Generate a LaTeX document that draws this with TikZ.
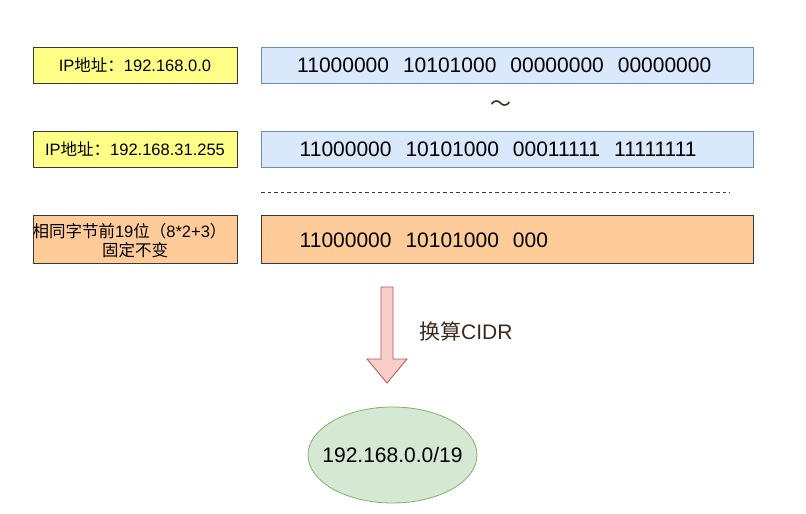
\documentclass[tikz,border=0pt]{standalone}
\usepackage{fontspec}
\setmainfont{Liberation Sans}
\newfontfamily\cjk{Noto Sans CJK SC}
\usetikzlibrary{shapes.geometric}
\definecolor{ylw}{HTML}{FFFF88}
\definecolor{blu}{HTML}{DAE8FC}
\definecolor{bluS}{HTML}{6C8EBF}
\definecolor{org}{HTML}{FFCC99}
\definecolor{drk}{HTML}{36393D}
\definecolor{grn}{HTML}{D5E8D4}
\definecolor{grnS}{HTML}{82B366}
\definecolor{pnk}{HTML}{F8CECC}
\definecolor{pnkS}{HTML}{B85450}
\definecolor{brn}{HTML}{3B2A1C}
\newcommand\gp{\hspace{14pt}}
\begin{document}
\begin{tikzpicture}[x=1pt,y=-1pt,
  box/.style={draw=drk,line width=0.8pt},
  bluebox/.style={draw=bluS,fill=blu,line width=0.8pt},
  small/.style={font=\fontsize{16.5}{19}\selectfont,inner sep=0pt},
  big/.style={font=\fontsize{21}{25}\selectfont,inner sep=0pt}]
\useasboundingbox (0,0) rectangle (806,514);
% left boxes
\draw[box,fill=ylw] (33,47) rectangle (237,83);
\node[small] (ip1) at (135,65) {IP{\cjk 地址：}192.168.0.0};
\draw[box,fill=ylw] (33,131) rectangle (237,167);
\node[small] (ip2) at (135,149) {IP{\cjk 地址：}192.168.31.255};
\draw[box,fill=org] (33,215) rectangle (237,263);
\node[small] (l1) at (129.5,231) {{\cjk 相同字节前}19{\cjk 位（}8*2+3{\cjk ）}};
\node[small] (l2) at (135,250) {\cjk 固定不变};
% right boxes
\draw[bluebox] (261,47) rectangle (753,83);
\node[big,anchor=west] (b1) at (297,65) {11000000\gp 10101000\gp 00000000\gp 00000000};
\node[font=\cjk\fontsize{21}{25}\selectfont,text=brn,inner sep=0pt] (tl) at (501,106) {～};
\draw[bluebox] (261,131) rectangle (753,167);
\node[big,anchor=west] (b2) at (299.5,149) {11000000\gp 10101000\gp 00011111\gp 11111111};
\draw[drk,line width=0.6pt,dash pattern=on 3.5pt off 3pt] (261,192) -- (730,192);
\draw[box,fill=org] (261,215) rectangle (753,263);
\node[big,anchor=west] (b3) at (299.5,240) {11000000\gp 10101000\gp 000};
% block arrow
\draw[draw=pnkS,fill=pnk,line width=0.8pt,line join=miter]
  (381,287) -- (393,287) -- (393,359) -- (407,359) -- (387,383) -- (367,359) -- (381,359) -- cycle;
\node[big,anchor=west,text=brn] (lab) at (419,331) {{\cjk 换算}CIDR};
% ellipse
\node[ellipse,draw=grnS,fill=grn,line width=0.8pt,minimum width=169pt,minimum height=96pt,inner sep=0pt,font=\fontsize{21}{25}\selectfont] (cidr) at (392.5,455) {\makebox[0pt]{192.168.0.0/19}};
\end{tikzpicture}
\end{document}
